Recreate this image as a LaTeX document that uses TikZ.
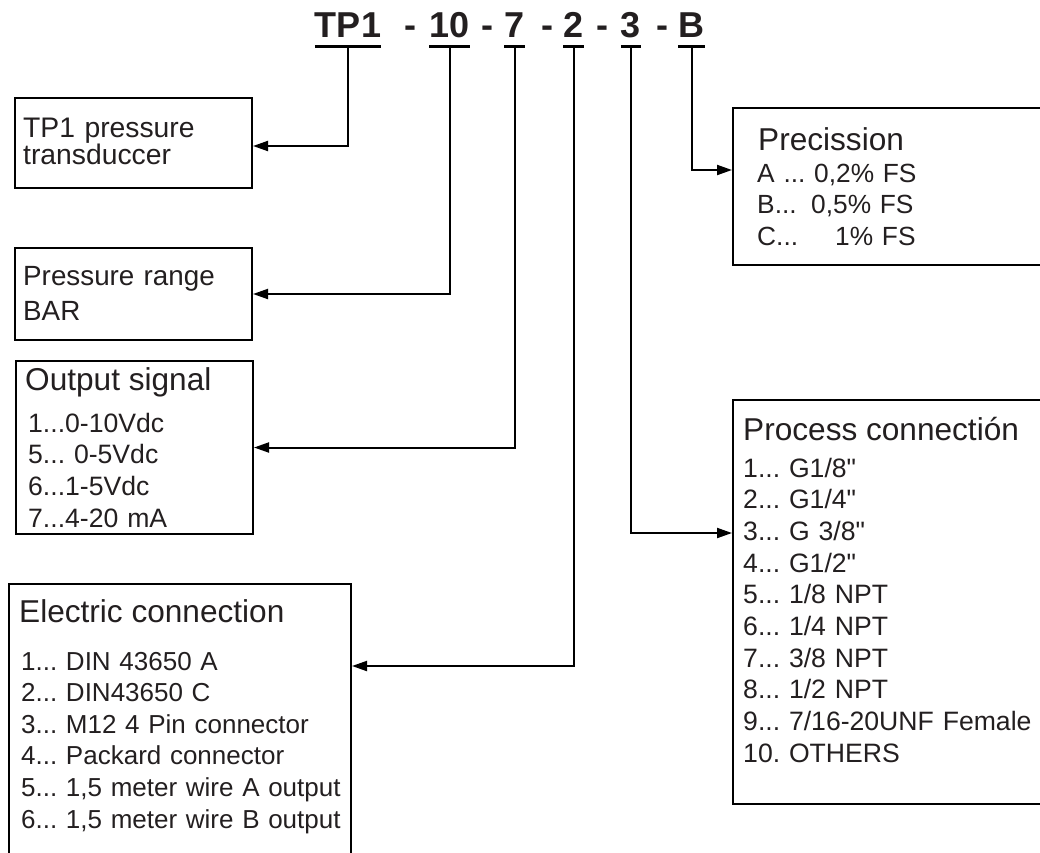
\documentclass[tikz,border=0pt]{standalone}
\usepackage{fontspec}
\setmainfont{Liberation Sans}
\usetikzlibrary{arrows.meta}
\definecolor{ink}{HTML}{231F20}
\frenchspacing

\begin{document}
\begin{tikzpicture}[x=1pt, y=-1pt, text=ink,
        code/.style={font=\fontsize{36}{36}\selectfont\bfseries, inner sep=0, anchor=base},
        box/.style={rectangle, draw=black, line width=2pt, anchor=north west, inner sep=0},
        head/.style={font=\fontsize{31.6}{31.6}\selectfont, inner sep=0, anchor=base west},
        items/.style={font=\fontsize{26.6}{31.7}\selectfont, text width=600pt, align=left, inner sep=0, anchor=base west},
        uline/.style={draw=black, line width=3.5pt},
        line/.style={draw=black, line width=2pt, -{Triangle[length=15pt,width=10pt]}}]

        \useasboundingbox (0,0) rectangle (1040,852);
        \clip (0,0) rectangle (1040,852);

        % order code
        \node [code] (ctp) at (348,37) {TP1};
        \node [code] (d1) at (410,37) {-};
        \node [code] (crange) at (449.5,37) {10};
        \node [code] (d2) at (487,37) {-};
        \node [code] (csig) at (514.5,37) {7};
        \node [code] (d3) at (547,37) {-};
        \node [code] (celec) at (573.5,37) {2};
        \node [code] (d4) at (602,37) {-};
        \node [code] (cproc) at (631,37) {3};
        \node [code] (d5) at (662,37) {-};
        \node [code] (cprec) at (691.5,37) {B};
        \foreach \c in {ctp,crange,csig,celec,cproc,cprec}
            \path [uline] ([yshift=-9.5pt]\c.base west) -- ([yshift=-9.5pt]\c.base east);

        % boxes
        \node [box, minimum width=237pt, minimum height=90pt] (tp) at (14,97) {};
        \node [box, minimum width=237pt, minimum height=92pt] (range) at (14,247) {};
        \node [box, minimum width=237pt, minimum height=173pt] (sig) at (15,360) {};
        \node [box, minimum width=342pt, minimum height=400pt] (elec) at (8,583) {};
        \node [box, minimum width=400pt, minimum height=157pt] (prec) at (732,107) {};
        \node [box, minimum width=400pt, minimum height=404pt] (proc) at (732,399) {};

        % box texts
        \node [items, font=\fontsize{28.3}{27.3}\selectfont] (tp-t) at (23,137) {TP1 pressure\\transduccer};
        \node [items, font=\fontsize{27.8}{35}\selectfont] (range-t) at (23,285) {Pressure range\\BAR};
        \node [head] (sig-h) at (25,390) {Output signal};
        \node [items] (sig-t) at (28,432) {1...0-10Vdc\\5... 0-5Vdc\\6...1-5Vdc\\7...4-20 mA};
        \node [head] (elec-h) at (19,622) {Electric connection};
        \node [items, font=\fontsize{26}{31.6}\selectfont] (elec-t) at (21,670) {1... DIN 43650 A\\2... DIN43650 C\\3... M12 4 Pin connector\\4... Packard connector\\5... 1,5 meter wire A output\\6... 1,5 meter wire B output};
        \node [head] (prec-h) at (758,150) {Precission};
        \node [items, font=\fontsize{26.3}{31.5}\selectfont] (prec-t) at (757,182) {A ... 0,2\% FS\\\makebox[54pt][l]{B...}0,5\% FS\\\makebox[78pt][l]{C...}1\% FS};
        \node [head] (proc-h) at (743,440) {Process connectión};
        \node [items] (proc-t) at (743,477) {1... G1/8\textquotedbl\\2... G1/4\textquotedbl\\3... G 3/8\textquotedbl\\4... G1/2\textquotedbl\\5... 1/8 NPT\\6... 1/4 NPT\\7... 3/8 NPT\\8... 1/2 NPT\\9... 7/16-20UNF Female\\10. OTHERS};

        % connectors
        \path [line] ([yshift=-9.5pt]ctp.base) |- ([yshift=-3pt]tp.east);
        \path [line] ([yshift=-9.5pt]crange.base) |- (range.east);
        \path [line] ([yshift=-9.5pt]csig.base) |- (sig.east);
        \path [line] ([yshift=-9.5pt]celec.base) |- ([yshift=-83pt]elec.north east);
        \path [line] ([yshift=-9.5pt]cproc.base) |- ([yshift=-134pt]proc.north west);
        \path [line] ([yshift=-9.5pt]cprec.base) |- ([yshift=-63pt]prec.north west);

    \end{tikzpicture}
\end{document}
